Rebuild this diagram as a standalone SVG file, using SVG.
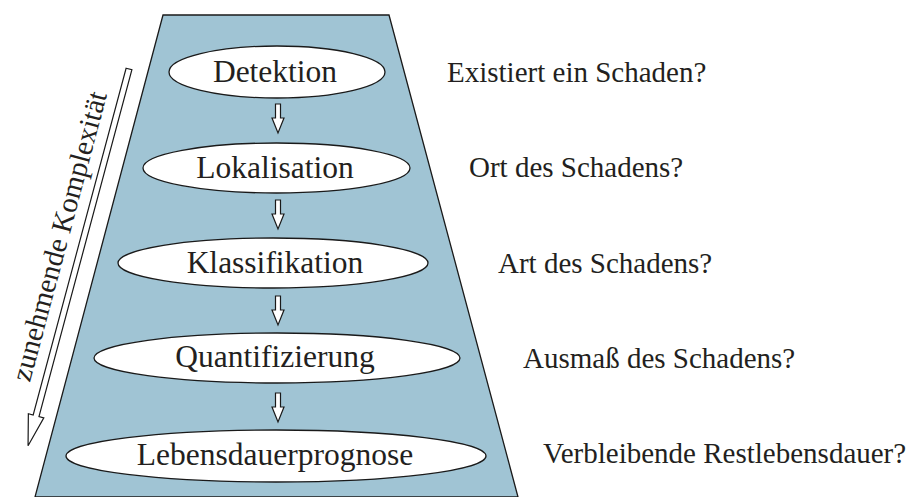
<svg xmlns="http://www.w3.org/2000/svg" width="909" height="497" viewBox="0 0 909 497">
<defs>
<style>
.node{fill:#fff;stroke:#1a1a1a;stroke-width:1.3}
.t{font-family:"Liberation Serif","Times New Roman",serif;fill:#231f20}
.nt{font-size:31.5px;text-anchor:middle}
.q{font-size:29px}
.arr{fill:#fff;stroke:#1a1a1a;stroke-width:1.2;stroke-linejoin:miter}
</style>
</defs>
<rect width="909" height="497" fill="#fff"/>
<polygon id="funnel" points="163,15 389,15 518,497 35,497" fill="#a0c4d4" stroke="#1a1a1a" stroke-width="1.3"/>
<g id="connectors">
<path class="arr" d="M275.5,104 H280.5 V118 H284 L278,133 L272,118 H275.5 Z"/>
<path class="arr" d="M275.5,200 H280.5 V214 H284 L278,229 L272,214 H275.5 Z"/>
<path class="arr" d="M275.5,296 H280.5 V310 H284 L278,325 L272,310 H275.5 Z"/>
<path class="arr" d="M275.5,393 H280.5 V407 H284 L278,422 L272,407 H275.5 Z"/>
<g id="complexity-arrow" transform="translate(129,69) rotate(15)">
<path class="arr" d="M-3,0 H3 V359 H8 L0,390 L-8,359 H-3 Z"/>
</g>
</g>
<g id="n-detektion"><ellipse class="node" cx="277" cy="72" rx="108" ry="26"/><text class="t nt" x="275" y="82">Detektion</text></g>
<g id="n-lokalisation"><ellipse class="node" cx="276.5" cy="168" rx="133.5" ry="25"/><text class="t nt" x="275" y="178">Lokalisation</text></g>
<g id="n-klassifikation"><ellipse class="node" cx="273" cy="263" rx="155" ry="25"/><text class="t nt" x="275" y="273">Klassifikation</text></g>
<g id="n-quantifizierung"><ellipse class="node" cx="277" cy="358" rx="183" ry="25"/><text class="t nt" x="275" y="367">Quantifizierung</text></g>
<g id="n-lebensdauer"><ellipse class="node" cx="276" cy="456" rx="210" ry="26"/><text class="t nt" x="275" y="465">Lebensdauerprognose</text></g>
<g id="labels">
<text class="t q" x="447" y="82">Existiert ein Schaden?</text>
<text class="t q" x="469" y="177">Ort des Schadens?</text>
<text class="t q" x="498" y="273">Art des Schadens?</text>
<text class="t q" x="523" y="368">Ausmaß des Schadens?</text>
<text class="t q" x="543" y="463">Verbleibende Restlebensdauer?</text>
<text class="t q" text-anchor="middle" transform="translate(68.5,238.7) rotate(-75)">zunehmende Komplexität</text>
</g>
</svg>
